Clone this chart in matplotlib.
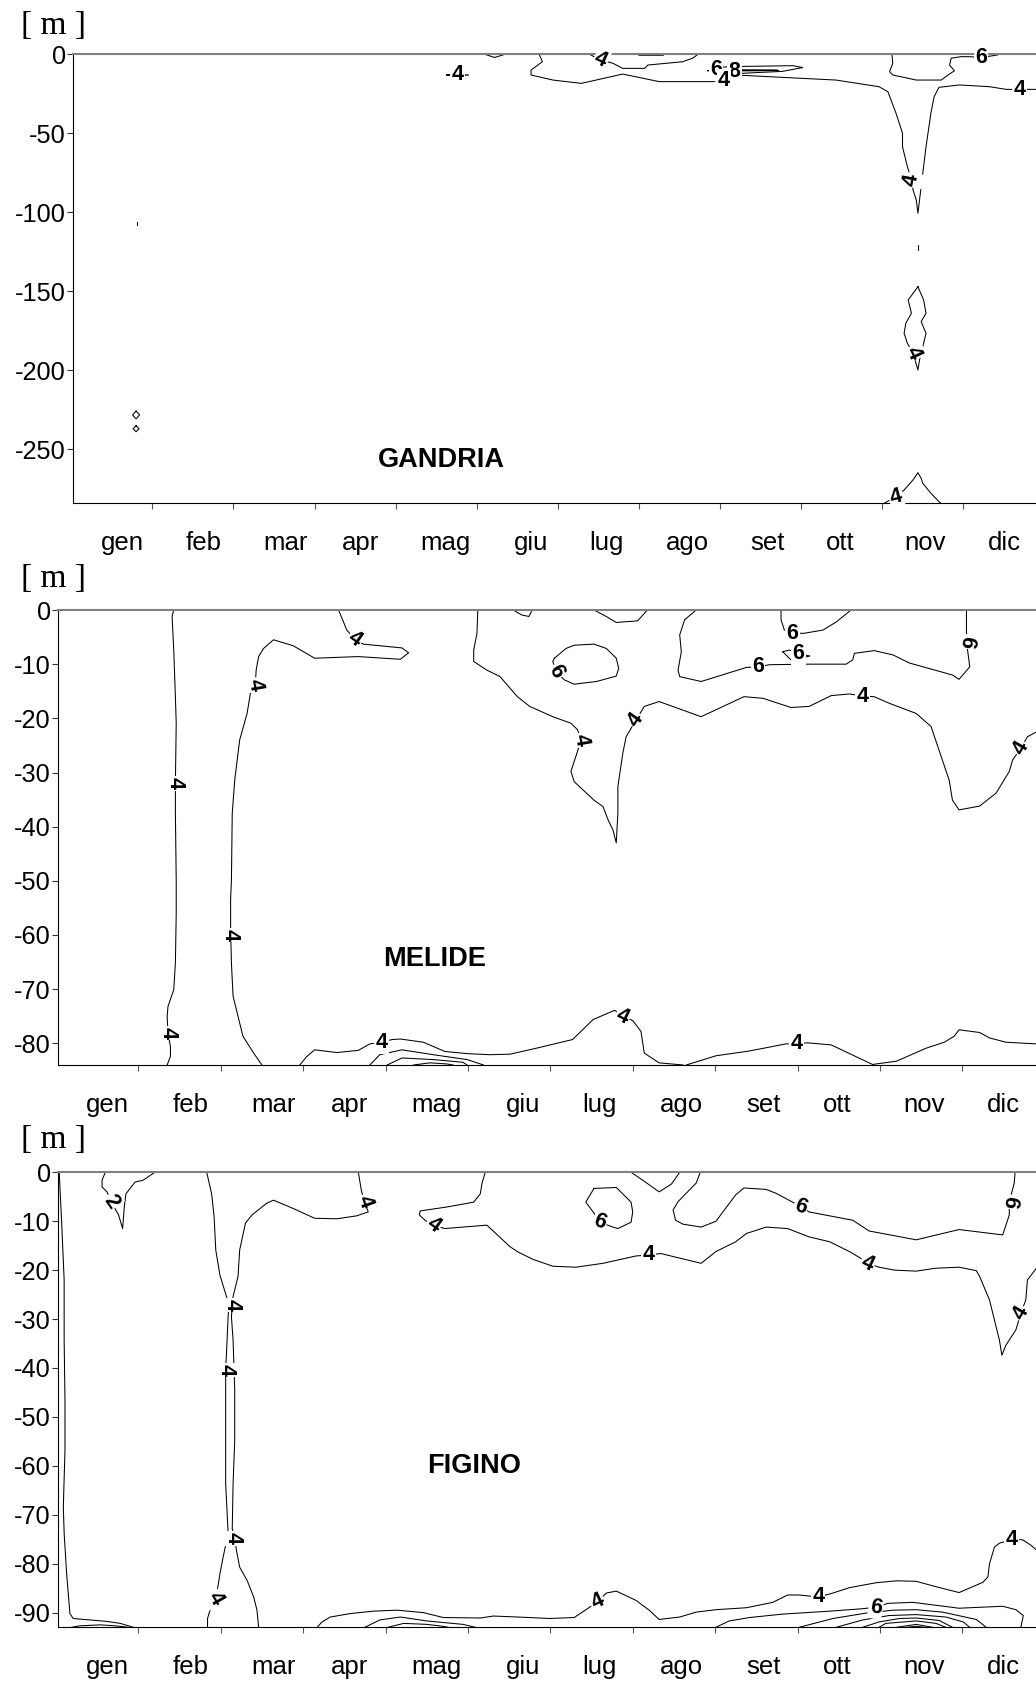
'''
Isolines of three lake stations (GANDRIA, MELIDE, FIGINO), depth vs month
'''
import matplotlib
matplotlib.use('Agg')
import numpy as np
import matplotlib.pyplot as plt

# month names and where their labels sit (x unit = month, ticks at boundaries 1..11)
MONTHS = ['gen', 'feb', 'mar', 'apr', 'mag', 'giu', 'lug', 'ago', 'set', 'ott', 'nov', 'dic']
MONTH_POS = [0.63, 1.63, 2.64, 3.565, 4.62, 5.67, 6.60, 7.595, 8.59, 9.485, 10.53, 11.50]
MONTH_TICKS = [1, 2, 3, 4, 5, 6, 7, 8, 9, 10, 11]

# ---------------- GANDRIA isolines (month, depth m) ----------------
g_4_main = [(5.77, 0), (5.81, -4.7), (5.67, -10.0), (5.67, -13.1), (5.94, -16.3), (6.29, -18.4), (6.80, -12.5),
	(7.25, -17.3), (7.91, -17.3), (8.20, -13.1), (8.77, -14.6), (9.43, -16.3), (9.96, -20.5), (10.07, -23.7),
	(10.17, -37.3), (10.25, -50.0), (10.25, -58.5), (10.31, -71.1), (10.36, -79.6), (10.38, -85.9), (10.42, -92.2),
	(10.44, -100.6), (10.48, -83.8), (10.54, -58.5), (10.60, -37.3), (10.64, -26.8), (10.70, -20.9), (10.95, -19.4),
	(11.32, -20.5), (11.53, -22.2), (11.90, -22.2)]
g_4_dip = [(6.39, 0), (6.53, -3.6), (6.68, -5.7), (6.80, -8.9), (7.07, -8.9), (7.11, -6.8), (7.54, -4.7), (7.66, -2.5), (7.73, 0)]
g_4_flat = [(6.99, 0), (7.00, -0.6), (7.30, -0.6), (7.31, 0)]
g_6_lens = [(7.85, -10.4), (8.00, -8.3), (8.12, -7.8), (8.90, -7.2), (9.02, -8.4), (8.77, -10.8), (8.28, -12.0), (8.00, -11.5), (7.85, -10.4)]
g_8_lens = [(8.25, -9.8), (8.70, -9.9), (8.72, -10.3), (8.25, -10.5), (8.25, -9.8)]
g_4_small = [(4.63, -13.1), (4.76, -12.6), (4.90, -13.1), (4.76, -13.6), (4.63, -13.1)]
g_top_dip = [(5.10, 0), (5.22, -2.0), (5.35, 0)]
g_6_nov = [(10.12, 0), (10.13, -5.7), (10.09, -11.0), (10.13, -13.1), (10.42, -16.3), (10.73, -16.3), (10.77, -14.6),
	(10.89, -10.4), (10.83, -6.8), (10.85, -2.5), (10.97, -1.5), (11.07, -1.5), (11.22, -1.9), (11.34, -1.1), (11.42, -0.4), (11.45, 0)]
g_dash = [(10.44, -120.8), (10.44, -124.0)]
g_4_deep = [(10.44, -147.1), (10.32, -155.5), (10.36, -163.9), (10.29, -170.3), (10.27, -176.6), (10.31, -182.9),
	(10.38, -189.2), (10.44, -199.8), (10.46, -193.5), (10.50, -185.1), (10.54, -176.6), (10.48, -169.2),
	(10.54, -163.9), (10.51, -155.5), (10.44, -147.1)]
g_4_bottom = [(10.03, -284), (10.17, -280.0), (10.27, -275.8), (10.38, -269.4), (10.44, -264.8), (10.48, -268.4),
	(10.50, -271.5), (10.60, -277.8), (10.70, -283.2), (10.72, -284)]
g_dot = [(0.81, -106), (0.81, -108)]
g_diamond1 = [(0.80, -225.8), (0.843, -228.3), (0.80, -230.8), (0.757, -228.3), (0.80, -225.8)]
g_diamond2 = [(0.80, -235.1), (0.837, -237.0), (0.80, -238.9), (0.763, -237.0), (0.80, -235.1)]
GANDRIA_LINES = [g_4_main, g_4_dip, g_4_flat, g_6_lens, g_8_lens, g_4_small, g_top_dip, g_6_nov,
	g_dash, g_4_deep, g_4_bottom, g_dot, g_diamond1, g_diamond2]
# (month, depth, text, angle)
GANDRIA_LABELS = [(4.76, -13.1, '4', 0), (6.53, -3.6, '4', -25), (7.95, -9.4, '6', 0), (8.18, -10.6, '8', 0),
	(8.05, -16.6, '4', 0), (10.36, -79.6, '4', 80), (10.38, -189.2, '4', -65), (10.17, -280.0, '4', 15),
	(11.22, -1.9, '6', 0), (11.69, -22.2, '4', 0)]

# ---------------- MELIDE isolines ----------------
m_4_a = [(1.43, 0), (1.41, -1.2), (1.43, -7.4), (1.45, -16.0), (1.46, -20.9), (1.45, -32.0), (1.45, -37.5), (1.46, -49.8),
	(1.46, -56.0), (1.45, -65.2), (1.43, -70.1), (1.36, -73.2), (1.35, -75.0), (1.36, -78.1), (1.39, -80.6), (1.39, -82.4), (1.35, -84.0)]
m_4_b = [(2.50, -84.0), (2.40, -81.8), (2.27, -78.7), (2.21, -75.0), (2.15, -71.3), (2.13, -65.2), (2.12, -59.0), (2.12, -53.5),
	(2.13, -49.8), (2.14, -37.5), (2.17, -31.4), (2.23, -24.0), (2.32, -19.1), (2.36, -15.4), (2.42, -13.8), (2.43, -11.1),
	(2.46, -8.6), (2.52, -7.1), (2.64, -5.5), (2.88, -6.6), (3.14, -8.9), (3.67, -8.6), (4.18, -9.1), (4.28, -7.9),
	(4.20, -7.0), (3.73, -6.3), (3.63, -5.4), (3.53, -3.7), (3.43, 0)]
m_4_c = [(5.12, 0), (5.11, -4.3), (5.07, -7.4), (5.07, -9.5), (5.23, -11.1), (5.39, -12.3), (5.60, -16.0), (5.75, -17.8),
	(6.03, -19.7), (6.25, -20.9), (6.33, -22.1), (6.37, -24.0), (6.33, -26.1), (6.25, -29.8), (6.29, -31.7), (6.53, -35.1),
	(6.64, -36.3), (6.70, -38.7), (6.76, -40.6), (6.80, -43.0), (6.82, -37.5), (6.82, -32.6), (6.88, -26.4), (6.92, -23.4),
	(7.04, -20.3), (7.14, -17.8), (7.32, -16.9), (7.83, -19.7), (8.35, -16.0), (8.58, -16.3), (8.92, -18.0), (9.14, -17.8),
	(9.41, -15.8), (9.63, -15.5), (9.79, -15.9), (9.93, -16.0), (10.11, -17.2), (10.44, -19.1), (10.62, -21.5),
	(10.84, -31.4), (10.88, -35.1), (10.96, -36.9), (11.21, -36.2), (11.41, -33.8), (11.57, -29.8), (11.61, -27.7),
	(11.71, -25.5), (11.79, -23.4), (11.90, -22.5)]
m_top_dip = [(5.55, 0), (5.65, -0.9), (5.74, -1.2), (5.78, 0)]
m_6_dip = [(6.53, 0), (6.68, -1.2), (6.80, -2.3), (7.06, -2.0), (7.16, -0.3), (7.18, 0)]
m_6_oval = [(6.05, -8.9), (6.19, -7.1), (6.29, -6.5), (6.53, -6.3), (6.68, -7.1), (6.80, -8.9), (6.83, -10.8), (6.80, -12.2),
	(6.56, -13.2), (6.29, -13.7), (6.17, -12.9), (6.07, -11.4), (6.03, -9.5), (6.05, -8.9)]
m_6_big = [(7.77, 0), (7.63, -1.8), (7.57, -4.6), (7.59, -7.7), (7.55, -11.1), (7.57, -12.3), (7.83, -13.2), (8.38, -10.6),
	(8.52, -10.5), (8.66, -10.1), (9.14, -10.0), (9.59, -10.0), (9.67, -9.2), (9.69, -8.0), (9.93, -7.5), (10.16, -8.3),
	(10.36, -9.8), (10.88, -12.0), (10.96, -12.8), (11.09, -10.5), (11.05, -5.8), (11.05, -3.1), (11.05, 0)]
m_6_top = [(8.80, 0), (8.80, -1.8), (8.84, -3.7), (8.94, -4.3), (9.08, -4.3), (9.31, -3.7), (9.47, -2.2), (9.65, 0)]
m_6_tiny = [(8.82, -7.7), (8.90, -7.4), (9.01, -8.0), (9.15, -8.5), (8.92, -9.2), (8.82, -7.7)]
m_4_bot1 = [(2.96, -84.0), (3.04, -82.5), (3.14, -81.2), (3.41, -81.7), (3.67, -81.3), (3.81, -80.1), (3.95, -79.8),
	(4.08, -79.3), (4.18, -79.2), (4.46, -79.8), (4.72, -81.5), (4.99, -81.9), (5.27, -82.1), (5.51, -82.0), (5.60, -81.7),
	(5.83, -80.9), (6.27, -79.3), (6.52, -75.6), (6.78, -73.9), (6.88, -75.0), (7.00, -75.8), (7.10, -77.8), (7.14, -81.8),
	(7.32, -83.6), (7.61, -84.0)]
m_inner1 = [(3.81, -84.0), (3.93, -82.1), (4.20, -81.2), (4.58, -82.1), (4.99, -83.0), (5.19, -84.0)]
m_inner2 = [(4.02, -84.0), (4.20, -82.7), (4.58, -83.0), (4.94, -83.5), (4.99, -84.0)]
m_inner3 = [(4.34, -84.0), (4.54, -83.6), (4.74, -83.8), (4.82, -84.0)]
m_4_bot2 = [(7.65, -84.0), (8.01, -82.3), (8.42, -81.4), (8.86, -80.1), (8.99, -80.1), (9.12, -79.9), (9.41, -80.3),
	(9.91, -83.9), (10.20, -83.3), (10.56, -80.9), (10.78, -79.8), (10.90, -78.7), (10.96, -77.5), (11.21, -78.0),
	(11.33, -79.0), (11.53, -79.8), (11.90, -80.1)]
MELIDE_LINES = [m_4_a, m_4_b, m_4_c, m_top_dip, m_6_dip, m_6_oval, m_6_big, m_6_top, m_6_tiny,
	m_4_bot1, m_inner1, m_inner2, m_inner3, m_4_bot2]
MELIDE_LABELS = [(1.45, -32.0, '4', -90), (1.36, -78.1, '4', -90), (2.12, -60.0, '4', -90), (2.42, -13.8, '4', -80),
	(3.63, -5.4, '4', -35), (6.37, -24.0, '4', -80), (7.04, -20.3, '4', 55), (9.79, -15.9, '4', 0), (11.71, -25.5, '4', 60),
	(6.07, -11.4, '6', -60), (8.52, -10.5, '6', 0), (8.94, -4.3, '6', 0), (9.01, -8.0, '6', 0), (11.05, -5.8, '6', -100),
	(3.95, -79.8, '4', 0), (6.88, -75.0, '4', -25), (8.99, -80.1, '4', 0)]

# ---------------- FIGINO isolines ----------------
f_4_left = [(0.04, 0), (0.07, -10.4), (0.10, -22.0), (0.10, -34.3), (0.11, -46.6), (0.11, -56.8), (0.09, -68.4), (0.10, -73.8),
	(0.13, -82.0), (0.17, -90.2), (0.21, -91.2), (0.62, -91.8), (0.78, -92.2), (0.94, -93.0)]
f_inner_left = [(0.19, -93.0), (0.29, -92.7), (0.54, -92.5), (0.72, -92.7), (0.88, -93.0)]
f_2 = [(0.60, 0), (0.56, -1.6), (0.56, -3.0), (0.62, -4.0), (0.67, -6.0), (0.76, -8.7), (0.81, -11.5), (0.83, -7.0),
	(0.85, -4.4), (0.96, -2.0), (1.06, -1.6), (1.20, 0)]
f_4_feb_a = [(1.83, 0), (1.89, -4.4), (1.92, -9.1), (1.94, -15.9), (1.99, -21.0), (2.07, -25.4), (2.10, -27.1), (2.09, -29.5),
	(2.07, -37.0), (2.06, -40.4), (2.06, -53.4), (2.06, -63.6), (2.09, -73.8), (2.03, -78.6), (1.99, -82.1), (1.97, -84.3),
	(1.94, -87.1), (1.87, -89.5), (1.84, -91.2), (1.84, -93.0)]
f_4_feb_b = [(3.67, 0), (3.69, -2.0), (3.71, -4.0), (3.75, -6.0), (3.79, -8.1), (3.65, -8.9), (3.41, -9.5), (3.14, -9.4),
	(2.88, -7.4), (2.64, -5.7), (2.56, -6.3), (2.38, -8.7), (2.30, -10.4), (2.23, -15.9), (2.21, -21.3), (2.15, -25.4),
	(2.13, -29.5), (2.15, -34.3), (2.17, -44.5), (2.17, -54.8), (2.15, -63.6), (2.14, -72.8), (2.17, -74.8), (2.19, -77.2),
	(2.23, -80.7), (2.32, -83.4), (2.40, -86.8), (2.44, -89.5), (2.46, -93.0)]
f_4_top = [(5.21, 0), (5.17, -2.3), (5.15, -4.4), (5.07, -6.1), (4.74, -7.1), (4.42, -7.9), (4.41, -8.7), (4.48, -9.8),
	(4.58, -10.8), (4.72, -11.5), (5.23, -10.8), (5.51, -15.2), (5.61, -16.3), (5.79, -17.8), (6.03, -19.2), (6.31, -19.4),
	(6.64, -18.6), (7.04, -17.1), (7.19, -16.9), (7.34, -16.6), (7.83, -18.6), (8.01, -16.2), (8.25, -14.2), (8.38, -12.5),
	(8.62, -11.2), (8.88, -11.5), (9.14, -13.2), (9.39, -14.2), (9.63, -16.2), (9.75, -17.4), (9.85, -18.6), (9.99, -19.4),
	(10.18, -20.0), (10.44, -20.2), (10.68, -19.6), (10.96, -19.4), (11.17, -20.1), (11.21, -21.3), (11.33, -26.1),
	(11.41, -31.6), (11.45, -34.3), (11.48, -37.4), (11.53, -35.3), (11.65, -32.2), (11.71, -28.8), (11.77, -26.1),
	(11.79, -22.0), (11.90, -19.6)]
f_6_dip = [(6.98, 0), (7.12, -1.6), (7.32, -4.0), (7.47, -2.4), (7.57, 0)]
f_6_oval = [(6.53, -3.3), (6.80, -3.1), (6.98, -6.1), (7.00, -8.1), (6.98, -10.2), (6.82, -11.5), (6.76, -11.2), (6.60, -10.2),
	(6.52, -8.1), (6.43, -6.1), (6.53, -3.3)]
f_6_big = [(7.82, 0), (7.77, -2.2), (7.55, -6.0), (7.49, -7.7), (7.52, -9.8), (7.61, -10.6), (7.83, -11.2), (8.01, -10.0),
	(8.25, -4.6), (8.35, -3.2), (8.62, -3.5), (8.74, -4.3), (9.04, -7.0), (9.14, -8.1), (9.67, -9.8), (9.87, -12.0),
	(10.44, -13.8), (10.96, -11.7), (11.49, -12.8), (11.57, -8.7), (11.57, -6.0), (11.63, -2.2), (11.64, 0)]
f_4_bot = [(3.17, -93.0), (3.23, -91.9), (3.33, -90.9), (3.57, -90.2), (3.85, -89.7), (4.14, -89.5), (4.46, -90.0), (4.70, -91.0),
	(5.15, -91.1), (5.31, -90.7), (5.61, -90.9), (5.99, -91.2), (6.29, -91.0), (6.45, -89.2), (6.57, -87.8), (6.68, -86.0),
	(6.80, -85.6), (7.04, -87.5), (7.20, -89.5), (7.32, -91.4), (7.57, -90.9), (7.77, -89.9), (8.01, -89.4), (8.38, -89.0),
	(8.70, -87.9), (8.88, -86.4), (9.02, -86.4), (9.25, -86.8), (9.41, -86.1), (9.63, -84.9), (9.95, -83.9), (10.20, -83.5),
	(10.44, -83.6), (10.68, -84.7), (10.96, -85.9), (11.25, -83.8), (11.31, -82.7), (11.33, -80.0), (11.39, -76.6),
	(11.45, -75.8), (11.60, -75.1), (11.73, -75.1), (11.83, -76.2), (11.90, -77.2)]
f_inner1 = [(3.75, -93.0), (3.93, -91.5), (4.18, -90.9), (4.50, -91.7), (4.94, -92.4), (5.09, -93.0)]
f_inner2 = [(4.03, -93.0), (4.22, -92.2), (4.50, -92.4), (4.70, -92.8), (4.76, -93.0)]
f_6_bot = [(8.01, -93.0), (8.17, -91.7), (8.42, -91.0), (8.82, -90.3), (9.39, -89.7), (9.79, -89.2), (9.95, -88.9), (10.10, -88.1),
	(10.40, -87.9), (10.68, -88.5), (10.96, -89.1), (11.49, -88.7), (11.65, -89.4), (11.74, -90.6), (11.71, -93.0)]
f_c1 = [(9.02, -93.0), (9.43, -91.2), (9.83, -90.1), (10.16, -89.5), (10.44, -89.4), (10.76, -89.9), (11.17, -91.4), (11.29, -93.0)]
f_c2 = [(9.47, -93.0), (9.79, -91.5), (10.11, -90.6), (10.44, -90.4), (10.80, -90.9), (11.01, -91.9), (11.09, -93.0)]
f_c3 = [(9.79, -93.0), (9.99, -91.9), (10.24, -91.2), (10.44, -91.1), (10.72, -91.6), (10.88, -93.0)]
f_c4 = [(9.99, -93.0), (10.07, -92.2), (10.44, -91.7), (10.68, -92.2), (10.80, -93.0)]
f_c5 = [(10.20, -93.0), (10.44, -92.4), (10.64, -93.0)]
f_c6 = [(10.32, -93.0), (10.44, -92.8), (10.54, -93.0)]
FIGINO_LINES = [f_4_left, f_inner_left, f_2, f_4_feb_a, f_4_feb_b, f_4_top, f_6_dip, f_6_oval, f_6_big,
	f_4_bot, f_inner1, f_inner2, f_6_bot, f_c1, f_c2, f_c3, f_c4, f_c5, f_c6]
FIGINO_LABELS = [(0.67, -6.0, '2', -55), (2.14, -27.1, '4', -90), (2.06, -40.4, '4', -90), (2.15, -74.8, '4', -90),
	(1.94, -87.1, '4', -60), (3.75, -6.0, '4', -70), (4.58, -10.8, '4', -35), (7.19, -16.9, '4', 0), (9.85, -18.6, '4', -25),
	(11.71, -28.8, '4', 60), (6.60, -10.2, '6', -20), (9.04, -7.0, '6', -20), (11.57, -6.0, '6', -100),
	(6.57, -87.8, '4', 25), (9.25, -86.8, '4', 0), (11.60, -75.1, '4', 0), (9.95, -88.9, '6', -10)]

W, H = 1036., 1686.
SANS = ['Liberation Sans', 'DejaVu Sans']


def draw_panel(fig, box, xlim, ylim, yticks, lines, labels, name, name_xy, unit_y):
	# box in pixels: left, top, bottom (right runs to the figure edge)
	left, top, bottom = box
	ax = fig.add_axes([left/W, 1-bottom/H, 1-left/W, (bottom-top)/H])
	for ln in lines:
		arr = np.array(ln)
		ax.plot(arr[:, 0], arr[:, 1], color='black', lw=0.75, solid_joinstyle='round', zorder=2)
	for (m, d, txt, rot) in labels:
		ax.text(m, d, txt, ha='center', va='center', rotation=rot, rotation_mode='anchor',
			fontsize=15.5, fontweight='bold', family=SANS, zorder=5,
			bbox=dict(boxstyle='square,pad=0.06', fc='white', ec='none'))
	ax.text(name_xy[0], name_xy[1], name, ha='center', va='baseline', fontsize=19.5,
		fontweight='bold', family=SANS)

	ax.set_xlim(*xlim)
	ax.set_ylim(*ylim)
	ax.set_xticks(MONTH_TICKS)
	ax.set_xticklabels([])
	ax.set_yticks(yticks)
	ax.set_yticklabels([str(v) for v in yticks], family=SANS, fontsize=18.3)
	ax.tick_params(axis='x', direction='out', length=4.5, width=0.8, color='#555555')
	ax.tick_params(axis='y', direction='out', length=4.5, width=0.8, pad=0.8, color='#333333')
	ax.spines['right'].set_visible(False)
	ax.spines['top'].set_color('#808080')
	ax.spines['top'].set_linewidth(1.5)
	for s in ['left', 'bottom']:
		ax.spines[s].set_linewidth(0.8)
		ax.spines[s].set_color('black')

	for m, nm in zip(MONTH_POS, MONTHS):
		ax.annotate(nm, xy=(m, 0), xycoords=('data', 'axes fraction'), xytext=(0, -33.8),
			textcoords='offset points', ha='center', va='baseline', fontsize=18.5,
			family=SANS, annotation_clip=False)
	fig.text(21.0/W, 1-unit_y/H, '[ m ]', ha='left', va='baseline', fontsize=24,
		family=['Liberation Serif', 'DejaVu Serif'])
	return ax


def main():
	fig = plt.figure(figsize=(W/100., H/100.), dpi=100, facecolor='white')

	draw_panel(fig, (73.3, 54.3, 503.0), (0.026, 11.896), (-284, 0), [0, -50, -100, -150, -200, -250],
		GANDRIA_LINES, GANDRIA_LABELS, 'GANDRIA', (4.57, -261.0), 34.0)
	draw_panel(fig, (58.3, 610.0, 1065.0), (0.029, 11.894), (-84, 0), [0, -10, -20, -30, -40, -50, -60, -70, -80],
		MELIDE_LINES, MELIDE_LABELS, 'MELIDE', (4.59, -65.7), 587.3)
	draw_panel(fig, (58.3, 1172.3, 1627.3), (0.029, 11.894), (-93, 0), [0, -10, -20, -30, -40, -50, -60, -70, -80, -90],
		FIGINO_LINES, FIGINO_LABELS, 'FIGINO', (5.08, -61.4), 1148.3)

	fig.savefig('out.png', dpi=100, facecolor='white')


if __name__ == '__main__':
	main()
